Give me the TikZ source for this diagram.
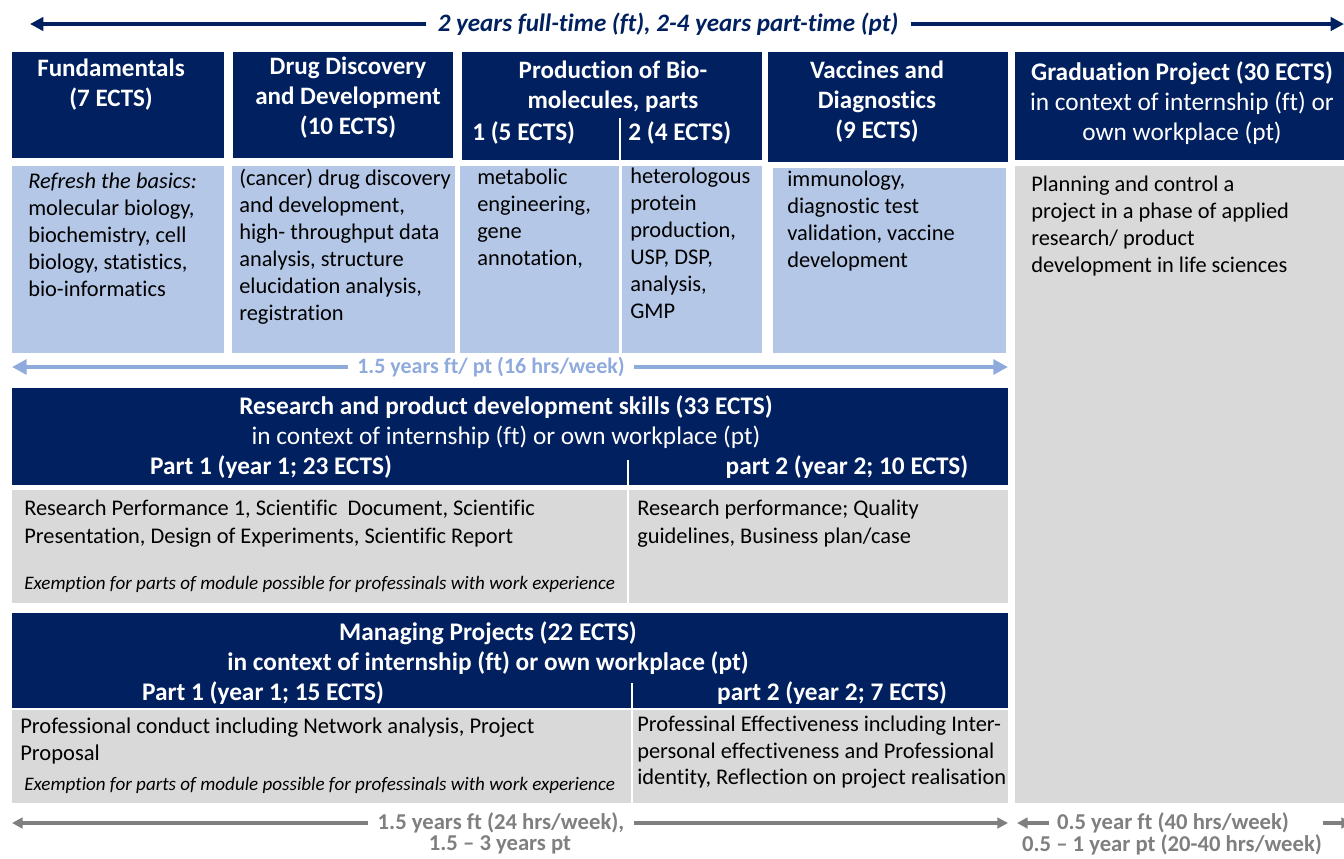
\documentclass[tikz,border=0pt]{standalone}
\usepackage{fontspec}
\setmainfont{Carlito}[Ligatures={TeX,NoCommon}]
\usetikzlibrary{arrows.meta,fit,positioning}

\definecolor{navy}{HTML}{002060}
\definecolor{paleblue}{HTML}{B4C7E7}
\definecolor{arrowblue}{HTML}{8FAADC}
\definecolor{palegray}{HTML}{D9D9D9}
\definecolor{arrowgray}{HTML}{7F7F7F}

\tikzset{
  hdrbox/.style={fill=navy, inner sep=0pt},
  bluebox/.style={fill=paleblue, inner sep=0pt},
  graybox/.style={fill=palegray, inner sep=0pt},
  htxt/.style={text=white, font=\bfseries\fontsize{18.8}{22.5}\selectfont, align=center, inner sep=0pt, anchor=north},
  hline/.style={text=white, font=\bfseries\fontsize{19}{22}\selectfont, inner sep=0pt},
  btxt/.style={text=black, font=\fontsize{16.8}{20.25}\selectfont, align=left, inner sep=0pt, anchor=north west},
  note/.style={text=black, font=\itshape\fontsize{14.3}{16}\selectfont, inner sep=0pt, anchor=west},
  spantxt/.style={text=arrowgray, font=\bfseries\fontsize{17}{19}\selectfont, inner sep=0pt},
  divider/.style={white, line width=1.2pt},
  navyarrow/.style={navy, line width=3pt, -{Triangle[length=10pt,width=10pt]}},
  bluearrow/.style={arrowblue, line width=3.5pt, -{Triangle[length=11pt,width=11pt]}},
  grayarrow/.style={arrowgray, line width=3.5pt, -{Triangle[length=8pt,width=8pt]}},
}

\begin{document}
\begin{tikzpicture}[x=0.75pt,y=-0.75pt]
\useasboundingbox (0,0) rectangle (1344,858);

\coordinate (topL) at (30,24);
\coordinate (topR) at (1344,24);
\node[text=navy, font=\bfseries\itshape\fontsize{18.8}{21}\selectfont, inner xsep=9pt, inner ysep=0pt] (span) at (668,24) {2 years full-time (ft), 2-4 years part-time (pt)};
\draw[navyarrow] (span.west) -- (topL);
\draw[navyarrow] (span.east) -- (topR);

\node[hdrbox, fit={(12,52) (224,158)}] (fundhdr) {};
\node[hdrbox, fit={(233,52) (453,158)}] (drughdr) {};
\node[hdrbox, fit={(462,52) (762,160)}] (prodhdr) {};
\node[hdrbox, fit={(768,52) (1008,162)}] (vacchdr) {};
\node[hdrbox, fit={(1015,52) (1344,160)}] (gradhdr) {};

\node[bluebox, fit={(12,166) (224,353)}] (fundbody) {};
\node[bluebox, fit={(232,166) (455,353)}] (drugbody) {};
\node[bluebox, fit={(460,166) (620,353)}] (prodbodyA) {};
\node[bluebox, fit={(622,166) (762,353)}] (prodbodyB) {};
\node[bluebox, fit={(773,168) (1006,353)}] (vaccbody) {};
\node[graybox, fit={(1015,166) (1344,803)}] (gradbody) {};

\node[htxt] (fundtitle) at (111,59) {Fundamentals\\(7 ECTS)};
\node[htxt] (drugtitle) at (348,57) {Drug Discovery\\and Development\\(10 ECTS)};
\node[htxt] (prodtitle) at (613,61) {Production of Bio-\\molecules, parts};
\node[hline, anchor=west] (prodA) at (472,133) {1 (5 ECTS)};
\node[hline, anchor=west] (prodB) at (628,133) {2 (4 ECTS)};
\node[htxt] (vacctitle) at (877,61) {Vaccines and\\Diagnostics\\(9 ECTS)};
\node[htxt, font=\fontsize{19}{22.5}\selectfont] (gradtitle) at (1182,61) {\textbf{Graduation Project (30 ECTS)}\\in context of internship (ft) or\\own workplace (pt)};
\draw[divider] (620,118) -- (620,353);

\node[btxt] (fundtxt) at (28,173) {\textit{Refresh the basics:}\\molecular biology,\\biochemistry, cell\\biology, statistics,\\bio-informatics};
\node[btxt] (drugtxt) at (239,169) {(cancer) drug discovery\\and development,\\high- throughput data\\analysis, structure\\elucidation analysis,\\registration};
\node[btxt] (prodtxtA) at (477,169) {metabolic\\engineering,\\gene\\annotation,};
\node[btxt] (prodtxtB) at (630,168) {heterologous\\protein\\production,\\USP, DSP,\\analysis,\\GMP};
\node[btxt] (vacctxt) at (787,171) {immunology,\\diagnostic test\\validation, vaccine\\development};
\node[btxt] (gradtxt) at (1031,176) {Planning and control a\\project in a phase of applied\\research/ product\\development in life sciences};

\coordinate (blueL) at (12,367);
\coordinate (blueR) at (1008,367);
\node[text=arrowblue, font=\bfseries\fontsize{16.5}{18}\selectfont, inner xsep=7pt, inner ysep=0pt] (course) at (491,367) {1.5 years ft/ pt (16 hrs/week)};
\draw[bluearrow] (course.west) -- (blueL);
\draw[bluearrow] (course.east) -- (blueR);

\node[hdrbox, fit={(12,388) (1008,485)}] (reshdr) {};
\node[graybox, fit={(12,490) (1008,603)}] (resbody) {};
\node[htxt, anchor=center, font=\fontsize{19}{22.5}\selectfont] (restitle) at (506,422) {\textbf{Research and product development skills (33 ECTS)}\\in context of internship (ft) or own workplace (pt)};
\node[hline] (resA) at (271,467) {Part 1 (year 1; 23 ECTS)};
\node[hline] (resB) at (847,467) {part 2 (year 2; 10 ECTS)};
\draw[divider] (628,460) -- (628,603);
\node[btxt, font=\fontsize{16.8}{21}\selectfont] (restxtA) at (24,500) {Research Performance 1, Scientific\ \ Document, Scientific\\Presentation, Design of Experiments, Scientific Report};
\node[note] (resnote) at (24,584) {Exemption for parts of module possible for professinals with work experience};
\node[btxt, font=\fontsize{16.8}{21}\selectfont] (restxtB) at (637,500) {Research performance; Quality\\guidelines, Business plan/case};

\node[hdrbox, fit={(12,613) (1008,708)}] (manhdr) {};
\node[graybox, fit={(12,710) (1008,803)}] (manbody) {};
\node[htxt, anchor=center, font=\bfseries\fontsize{19}{23}\selectfont] (mantitle) at (488,648) {Managing Projects (22 ECTS)\\in context of internship (ft) or own workplace (pt)};
\node[hline] (manA) at (263,693) {Part 1 (year 1; 15 ECTS)};
\node[hline] (manB) at (832,693) {part 2 (year 2; 7 ECTS)};
\draw[divider] (632,683) -- (632,803);
\node[btxt, font=\fontsize{16.9}{20.25}\selectfont] (mantxtA) at (20,718) {Professional conduct including Network analysis, Project\\Proposal};
\node[note] (mannote) at (24,785) {Exemption for parts of module possible for professinals with work experience};
\node[btxt, font=\fontsize{16.8}{19.8}\selectfont] (mantxtB) at (637,716) {Professinal Effectiveness including Inter-\\personal effectiveness and Professional\\identity, Reflection on project realisation};

\coordinate (grayL) at (12,823);
\coordinate (grayR) at (1008,823);
\node[spantxt, inner xsep=7pt] (ftspan) at (501,823) {1.5 years ft (24 hrs/week),};
\node[spantxt] (ptspan) at (500,845) {1.5 – 3 years pt};
\draw[grayarrow] (ftspan.west) -- (grayL);
\draw[grayarrow] (ftspan.east) -- (grayR);

\coordinate (gradL) at (1017,823);
\coordinate (gradR0) at (1323,823);
\coordinate (gradR) at (1352,823);
\node[spantxt, inner xsep=6pt] (gradft) at (1173,823) {0.5 year ft (40 hrs/week)};
\node[spantxt] (gradpt) at (1172,845) {0.5 – 1 year pt (20-40 hrs/week)};
\draw[grayarrow] (gradft.west) -- (gradL);
\draw[grayarrow] (gradR0) -- (gradR);
\end{tikzpicture}
\end{document}
